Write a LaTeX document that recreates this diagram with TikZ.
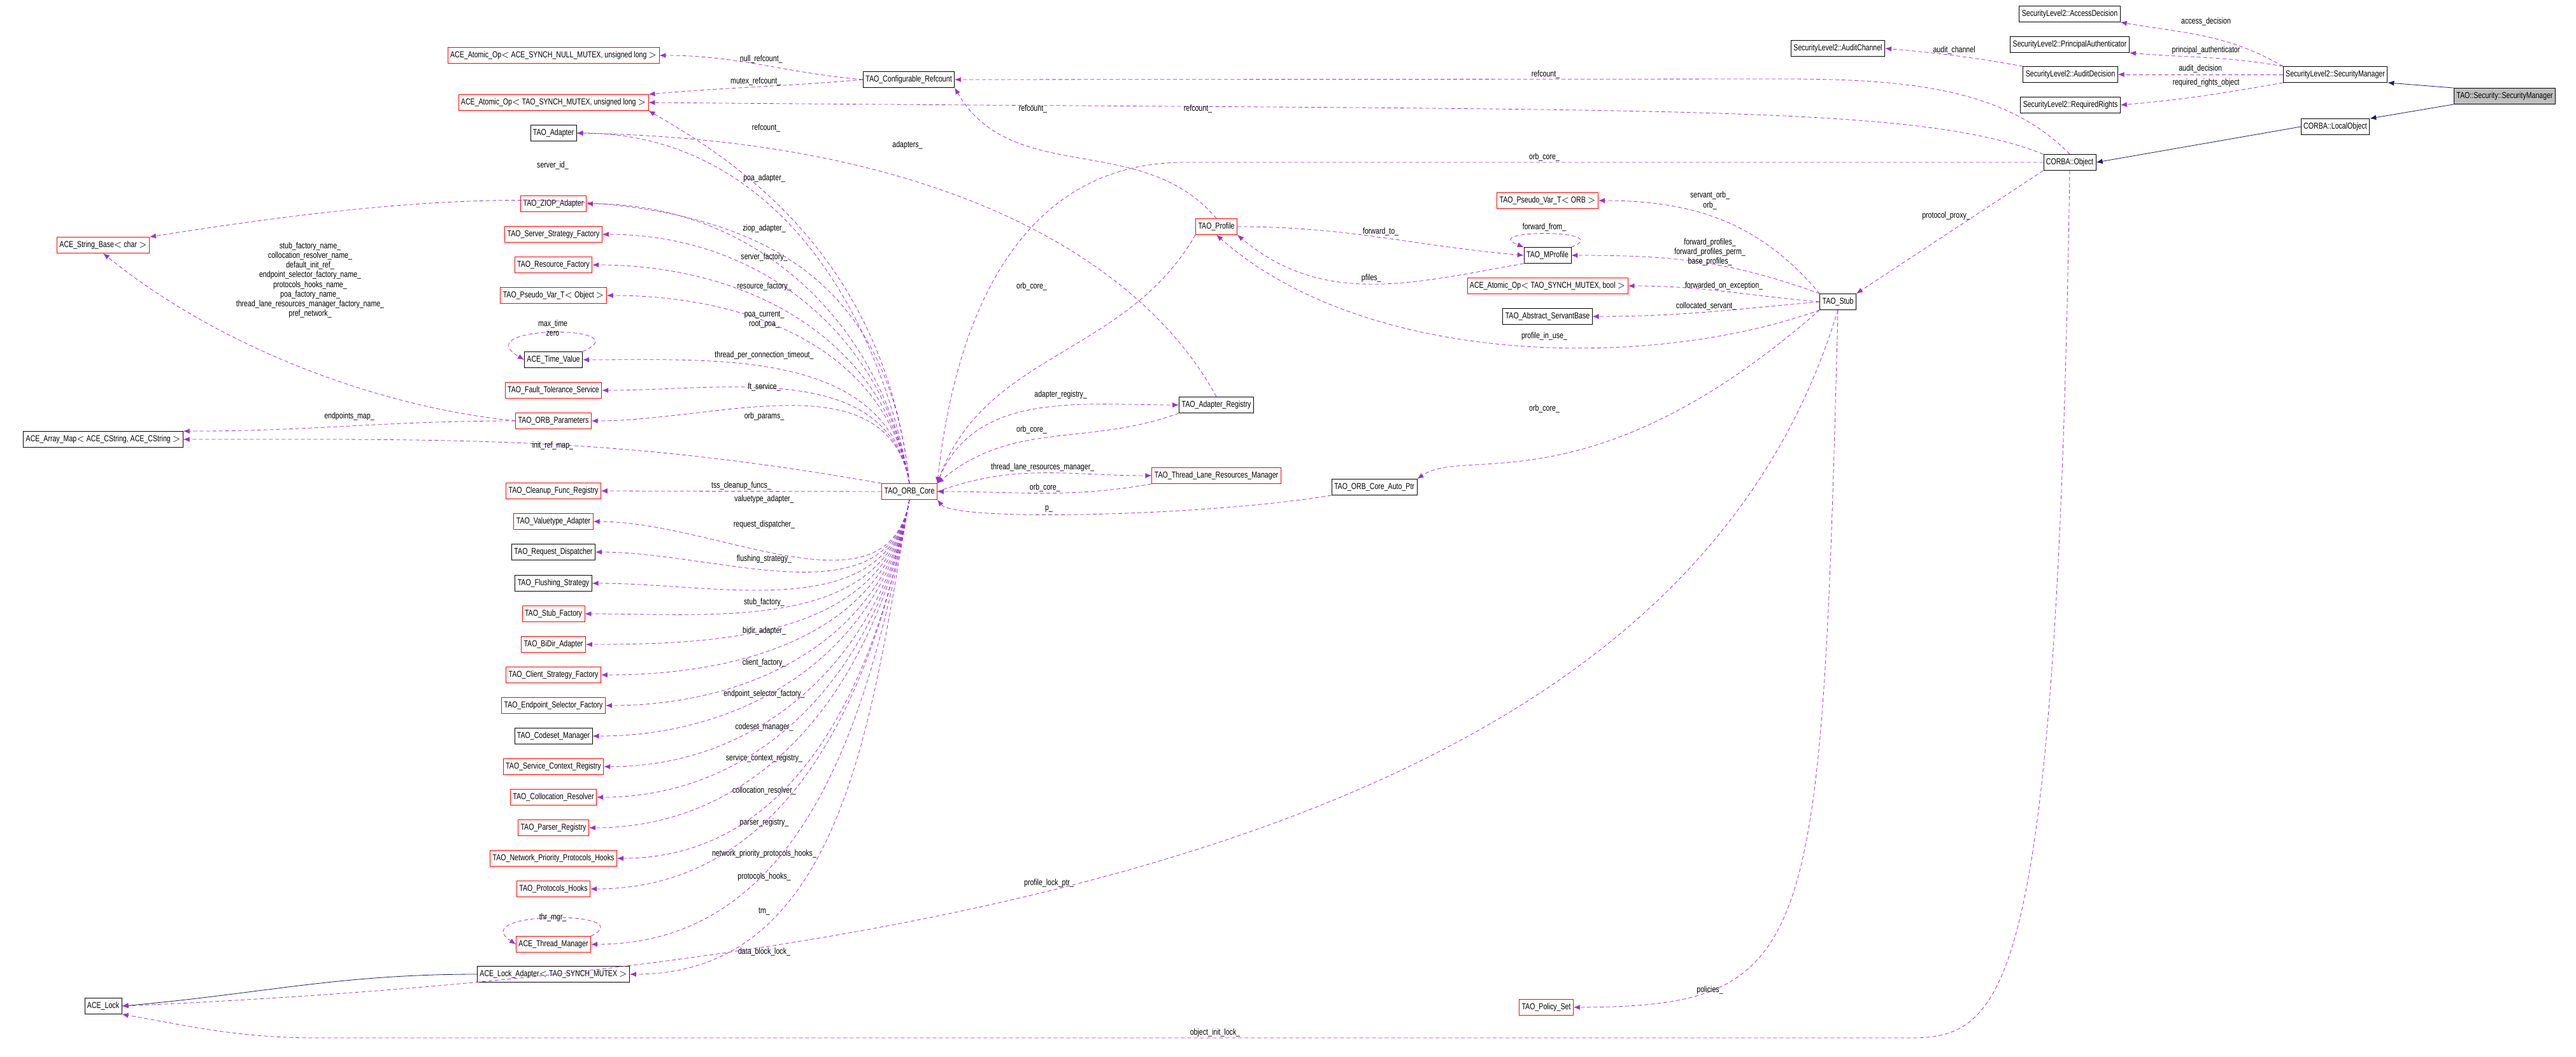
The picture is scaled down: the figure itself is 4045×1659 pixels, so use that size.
\documentclass[tikz,border=0pt]{standalone}
\usepackage{fontspec}
\setmainfont{Liberation Sans}[FakeStretch=0.78]
\usepackage{tikz}
\usetikzlibrary{arrows.meta}
\definecolor{edgepurple}{HTML}{9A32CD}
\definecolor{inhnavy}{HTML}{191970}

\begin{document}
\begin{tikzpicture}[x=0.5pt,y=-0.5pt,
  every node/.style={font=\fontsize{6.8}{7.6}\selectfont},
  cls/.style={draw=black,fill=white,inner sep=2pt,minimum height=12.5pt},
  clsred/.style={cls,draw=red},
  clsme/.style={cls,fill=black!25},
  member/.style={draw=edgepurple,dashed,dash pattern=on 3pt off 2pt,-{Latex[length=5pt,width=4pt]}},
  inherit/.style={draw=inhnavy,-{Latex[length=5pt,width=4pt]}},
  lbl/.style={inner sep=1pt,align=center}]
\useasboundingbox (0,0) rectangle (4045,1659);
% left column
\node[clsred] (atnull) at (869,87) {ACE\_Atomic\_Op$<$ ACE\_SYNCH\_NULL\_MUTEX, unsigned long $>$};
\node[clsred] (atmutex) at (869,161) {ACE\_Atomic\_Op$<$ TAO\_SYNCH\_MUTEX, unsigned long $>$};
\node[cls] (adapter) at (869,209) {TAO\_Adapter};
\node[clsred] (strbase) at (162,385) {ACE\_String\_Base$<$ char $>$};
\node[clsred] (ziop) at (869,320) {TAO\_ZIOP\_Adapter};
\node[clsred] (srvfac) at (869,368) {TAO\_Server\_Strategy\_Factory};
\node[clsred] (resfac) at (869,416) {TAO\_Resource\_Factory};
\node[clsred] (pvobj) at (869,464) {TAO\_Pseudo\_Var\_T$<$ Object $>$};
\node[cls] (timeval) at (869,565) {ACE\_Time\_Value};
\node[clsred] (ftsvc) at (869,613) {TAO\_Fault\_Tolerance\_Service};
\node[clsred] (orbparams) at (869,661) {TAO\_ORB\_Parameters};
\node[cls] (arrmap) at (162,690) {ACE\_Array\_Map$<$ ACE\_CString, ACE\_CString $>$};
\node[clsred] (cleanup) at (869,771) {TAO\_Cleanup\_Func\_Registry};
\node[clsred] (valtype) at (869,819) {TAO\_Valuetype\_Adapter};
\node[cls] (reqdisp) at (869,867) {TAO\_Request\_Dispatcher};
\node[cls] (flush) at (869,916) {TAO\_Flushing\_Strategy};
\node[clsred] (stubfac) at (869,964) {TAO\_Stub\_Factory};
\node[clsred] (bidir) at (869,1012) {TAO\_BiDir\_Adapter};
\node[clsred] (clifac) at (869,1060) {TAO\_Client\_Strategy\_Factory};
\node[clsred] (epsel) at (869,1108) {TAO\_Endpoint\_Selector\_Factory};
\node[cls] (codeset) at (869,1156) {TAO\_Codeset\_Manager};
\node[clsred] (svcctx) at (869,1204) {TAO\_Service\_Context\_Registry};
\node[clsred] (colloc) at (869,1252) {TAO\_Collocation\_Resolver};
\node[clsred] (parser) at (869,1300) {TAO\_Parser\_Registry};
\node[clsred] (netprio) at (869,1348) {TAO\_Network\_Priority\_Protocols\_Hooks};
\node[clsred] (prothooks) at (869,1396) {TAO\_Protocols\_Hooks};
\node[clsred] (thrmgr) at (869,1483) {ACE\_Thread\_Manager};
\node[cls] (lockadp) at (869,1530) {ACE\_Lock\_Adapter$<$ TAO\_SYNCH\_MUTEX $>$};
\node[cls] (acelock) at (162,1580) {ACE\_Lock};
% middle
\node[cls] (cfgref) at (1427,125) {TAO\_Configurable\_Refcount};
\node[clsred] (orbcore) at (1428,772) {TAO\_ORB\_Core};
\node[clsred] (profile) at (1910,356) {TAO\_Profile};
\node[cls] (adpreg) at (1910,636) {TAO\_Adapter\_Registry};
\node[clsred] (tlrm) at (1910,747) {TAO\_Thread\_Lane\_Resources\_Manager};
\node[cls] (autoptr) at (2158,765) {TAO\_ORB\_Core\_Auto\_Ptr};
\node[clsred] (pvorb) at (2430,315) {TAO\_Pseudo\_Var\_T$<$ ORB $>$};
\node[cls] (mprofile) at (2430,401) {TAO\_MProfile};
\node[clsred] (atbool) at (2430,449) {ACE\_Atomic\_Op$<$ TAO\_SYNCH\_MUTEX, bool $>$};
\node[cls] (servbase) at (2430,497) {TAO\_Abstract\_ServantBase};
\node[clsred] (polset) at (2428,1582) {TAO\_Policy\_Set};
\node[cls] (stub) at (2886,474) {TAO\_Stub};
% right
\node[cls] (auditch) at (2886,76) {SecurityLevel2::AuditChannel};
\node[cls] (accdec) at (3250,22) {SecurityLevel2::AccessDecision};
\node[cls] (prinauth) at (3250,70) {SecurityLevel2::PrincipalAuthenticator};
\node[cls] (auditdec) at (3251,117) {SecurityLevel2::AuditDecision};
\node[cls] (reqrights) at (3251,165) {SecurityLevel2::RequiredRights};
\node[cls] (corbaobj) at (3250,255) {CORBA::Object};
\node[cls] (sl2mgr) at (3667,117) {SecurityLevel2::SecurityManager};
\node[cls] (localobj) at (3667,199) {CORBA::LocalObject};
\node[clsme] (taosec) at (3933,151) {TAO::Security::SecurityManager};

% inheritance
\draw[inherit] (taosec.north west) -- (sl2mgr.south east);
\draw[inherit] (taosec.south west) -- (localobj.north east);
\draw[inherit] (localobj.west) -- (corbaobj.east);
\draw[inherit] (lockadp.west) to[out=180,in=5] (acelock.east);

% security manager members
\draw[member] (sl2mgr.north west) to[out=150,in=-10] (accdec.south east);
\node[lbl] at (3464,34) {access\_decision};
\draw[member] (sl2mgr.north west) to[out=170,in=-5] (prinauth.south east);
\node[lbl] at (3464,79) {principal\_authenticator};
\draw[member] (sl2mgr.west) -- node[lbl,above]{audit\_decision} (auditdec.east);
\draw[member] (sl2mgr.south west) to[out=190,in=5] (reqrights.east);
\node[lbl] at (3464,130) {required\_rights\_object};
\draw[member] (auditdec.north west) to[out=170,in=-5] node[lbl,above]{audit\_channel} (auditch.east);

% ORB core members, upper side
\foreach \tgt/\txt/\ly in {ziop/ziop\_adapter\_/359, srvfac/server\_factory\_/404,
    resfac/resource\_factory\_/450, pvobj/{poa\_current\_\\root\_poa\_}/502,
    timeval/thread\_per\_connection\_timeout\_/558, ftsvc/ft\_service\_/608,
    orbparams/orb\_params\_/654} {
  \draw[member] (orbcore.north) to[out=100,in=0] (\tgt.east);
  \node[lbl] at (1200,\ly) {\txt};
}
\draw[member] (orbcore.north) to[out=100,in=0] (adapter.east);
\node[lbl] (lpoaadp) at (1200,280) {poa\_adapter\_};
\draw[member] (orbcore.north) .. controls (1390,400) and (1150,250) .. (atmutex.south east);
\node[lbl] at (1203,201) {refcount\_};
\draw[member] (orbcore.north) .. controls (1380,300) and (1000,250) .. (strbase.north east);
\node[lbl] at (868,260) {server\_id\_};
\draw[member] (orbcore.north west) to[out=170,in=0] (arrmap.east);
\node[lbl] at (868,700) {init\_ref\_map\_};
\draw[member] (orbcore.west) -- node[lbl,above]{tss\_cleanup\_funcs\_} (cleanup.east);

% ORB core members, lower side
\foreach \tgt/\txt/\ly in {valtype/valuetype\_adapter\_/784, reqdisp/request\_dispatcher\_/824,
    flush/flushing\_strategy\_/878, stubfac/stub\_factory\_/946, bidir/bidir\_adapter\_/991,
    clifac/client\_factory\_/1041, epsel/endpoint\_selector\_factory\_/1090,
    codeset/codeset\_manager\_/1142, svcctx/service\_context\_registry\_/1191,
    colloc/collocation\_resolver\_/1242, parser/parser\_registry\_/1292,
    netprio/network\_priority\_protocols\_hooks\_/1341, prothooks/protocols\_hooks\_/1377,
    thrmgr/tm\_/1431, lockadp/data\_block\_lock\_/1495} {
  \draw[member] (orbcore.south) to[out=-100,in=0] (\tgt.east);
  \node[lbl] at (1200,\ly) {\txt};
}

% self loops and parameters
\draw[member] (timeval.north east) .. controls (1010,510) and (730,510) .. (timeval.west);
\node[lbl] at (868,515) {max\_time\\zero};
\draw[member] (thrmgr.north east) .. controls (1010,1430) and (730,1430) .. (thrmgr.west);
\node[lbl] at (868,1441) {thr\_mgr\_};
\draw[member] (orbparams.west) .. controls (600,640) and (350,550) .. (strbase.south);
\node[lbl] at (487,440) {stub\_factory\_name\_\\collocation\_resolver\_name\_\\default\_init\_ref\_\\endpoint\_selector\_factory\_name\_\\protocols\_hooks\_name\_\\poa\_factory\_name\_\\thread\_lane\_resources\_manager\_factory\_name\_\\pref\_network\_};
\draw[member] (orbparams.west) to[out=180,in=0] node[lbl,above=3pt]{endpoints\_map\_} (arrmap.north east);

% refcount
\draw[member] (cfgref.west) to[out=175,in=0] node[lbl,above]{null\_refcount\_} (atnull.east);
\draw[member] (cfgref.west) to[out=185,in=5] node[lbl,above]{mutex\_refcount\_} (atmutex.north east);
\draw[member] (profile.north) to[out=130,in=-60] (cfgref.south east);
\node[lbl] at (1622,171) {refcount\_};
\draw[member] (corbaobj.north west) .. controls (3000,160) and (2600,175) .. (atmutex.east);
\node[lbl] at (1881,171) {refcount\_};
\draw[member] (corbaobj.north) .. controls (3150,140) and (3000,124) .. (2800,124) -- (cfgref.east);
\node[lbl] at (2427,117) {refcount\_};

% adapters and registry
\draw[member] (adpreg.north) .. controls (1800,420) and (1500,220) .. (adapter.east);
\node[lbl] at (1425,228) {adapters\_};
\draw[member] (orbcore.north east) to[out=70,in=180] node[lbl,above=4pt,pos=0.6]{adapter\_registry\_} (adpreg.west);
\draw[member] (adpreg.south west) to[out=200,in=40] (orbcore.north east);
\node[lbl] at (1620,675) {orb\_core\_};
\draw[member] (profile.south west) to[out=240,in=70] (orbcore.north east);
\node[lbl] at (1620,450) {orb\_core\_};
\draw[member] (orbcore.east) to[out=20,in=180] node[lbl,above]{thread\_lane\_resources\_manager\_} (tlrm.west);
\draw[member] (tlrm.south west) to[out=190,in=0] node[lbl,above]{orb\_core\_} (orbcore.east);
\draw[member] (autoptr.south west) .. controls (1900,810) and (1500,820) .. node[lbl,above,pos=0.6]{p\_} (orbcore.south east);
\draw[member] (corbaobj.west) -- (1860,255) .. controls (1600,255) and (1500,500) .. (orbcore.north east);
\node[lbl] at (2425,247) {orb\_core\_};

% profiles
\draw[member] (profile.east) to[out=0,in=175] node[lbl,above]{forward\_to\_} (mprofile.west);
\draw[member] (mprofile.south west) to[out=190,in=-40] node[lbl,above]{pfiles\_} (profile.south east);
\draw[member] (mprofile.north east) .. controls (2540,360) and (2320,360) .. (mprofile.north west);
\node[lbl] at (2425,357) {forward\_from\_};

% stub members
\draw[member] (corbaobj.south west) -- (stub.north east);
\node[lbl] at (3056,339) {protocol\_proxy\_};
\draw[member] (stub.north west) to[out=130,in=0] (pvorb.east);
\node[lbl] at (2685,315) {servant\_orb\_\\orb\_};
\draw[member] (stub.north west) to[out=160,in=0] (mprofile.east);
\node[lbl] at (2685,396) {forward\_profiles\_\\forward\_profiles\_perm\_\\base\_profiles\_};
\draw[member] (stub.west) to[out=175,in=0] node[lbl,above]{forwarded\_on\_exception\_} (atbool.east);
\draw[member] (stub.west) to[out=185,in=0] node[lbl,above]{collocated\_servant\_} (servbase.east);
\draw[member] (stub.south west) .. controls (2600,580) and (2150,580) .. (profile.south);
\node[lbl] at (2425,528) {profile\_in\_use\_};
\draw[member] (stub.south west) .. controls (2500,800) and (2300,700) .. (autoptr.north east);
\node[lbl] at (2425,642) {orb\_core\_};
\draw[member] (stub.south) .. controls (2700,1100) and (2000,1500) .. (acelock.east);
\node[lbl] at (1647,1387) {profile\_lock\_ptr\_};
\draw[member] (stub.south) .. controls (2860,1500) and (2850,1580) .. (polset.east);
\node[lbl] at (2685,1555) {policies\_};
\draw[member] (corbaobj.south) .. controls (3230,1560) and (3150,1630) .. (3000,1630) -- (500,1630) to[out=180,in=-10] (acelock.south east);
\node[lbl] at (1908,1622) {object\_init\_lock\_};
\end{tikzpicture}
\end{document}
